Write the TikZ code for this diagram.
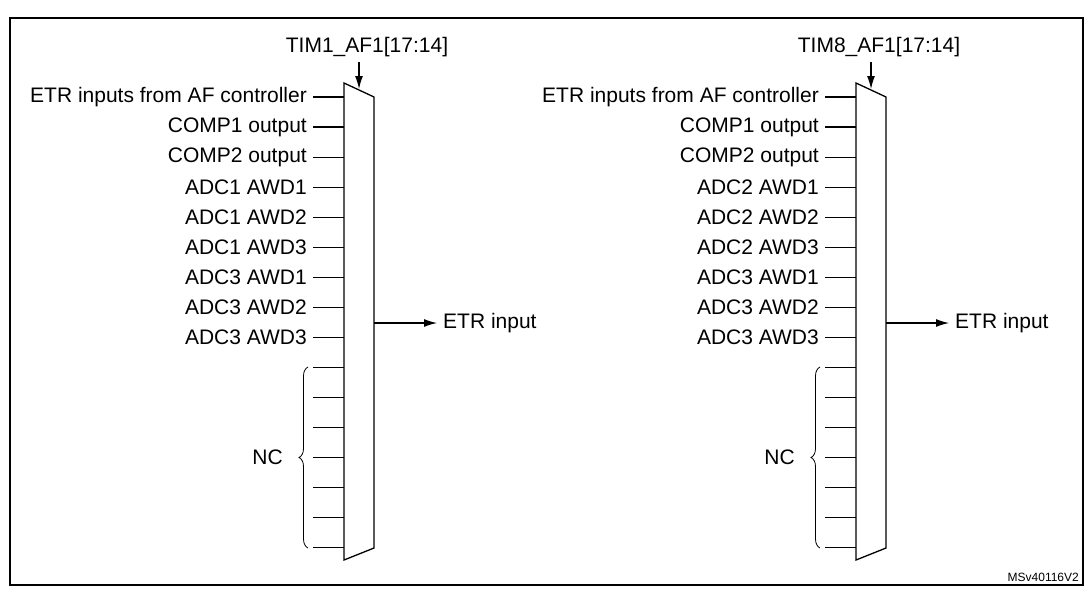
\documentclass[tikz,border=0pt]{standalone}
\usepackage{fontspec}
\setmainfont{Liberation Sans}
\usetikzlibrary{arrows.meta,decorations.pathreplacing}
\begin{document}
\begin{tikzpicture}[x=1pt,y=-1pt,
  lab/.style={anchor=east,inner sep=0pt,font=\fontsize{21}{24}\selectfont},
  wire/.style={line width=1.2pt},
  arr/.style={line width=1.2pt,-{Latex[length=13pt,width=8pt]}}]
\useasboundingbox (0,0) rectangle (1091,589);
\draw[line width=1.3pt] (10,18) rectangle (1083,585);
\node[anchor=south east,inner sep=0pt,font=\fontsize{12}{14}\selectfont] (ver) at (1079,582) {MSv40116V2};
\foreach \ox/\t/\a in {0/TIM1/1, 512/TIM8/2}{
  \begin{scope}[xshift=\ox]
  \draw[line width=1.3pt] (344,83) -- (374,97) -- (374,548) -- (344,560) -- cycle;
  \node[inner sep=0pt,font=\fontsize{21}{24}\selectfont] (sel\t) at (367,47) {\t\_AF1[17:14]};
  \coordinate (sa\t) at (359,62);
  \coordinate (sb\t) at (359,89);
  \draw[arr] (sa\t) -- (sb\t);
  \foreach \i/\s in {0/ETR inputs from AF controller,1/COMP1 output,2/COMP2 output,
     3/ADC\a{} AWD1,4/ADC\a{} AWD2,5/ADC\a{} AWD3,6/ADC3 AWD1,7/ADC3 AWD2,8/ADC3 AWD3}{
    \node[lab] (l\t\i) at (307,97+30.05*\i) {\s};
  }
  \foreach \i in {0,...,15}{
    \coordinate (s\t\i) at (313,97+30.05*\i);
    \coordinate (e\t\i) at (344,97+30.05*\i);
    \draw[wire] (s\t\i) -- (e\t\i);
  }
  \draw[line width=0.8pt,decorate,decoration={brace,amplitude=9pt}] (308,548) -- (308,367);
  \node[lab] (nc\t) at (283,457) {NC};
  \coordinate (o\t) at (374,323);
  \coordinate (oe\t) at (437,323);
  \draw[arr] (o\t) -- (oe\t);
  \node[lab,anchor=west] (out\t) at (443,323) {ETR input};
  \end{scope}
}
\end{tikzpicture}
\end{document}
